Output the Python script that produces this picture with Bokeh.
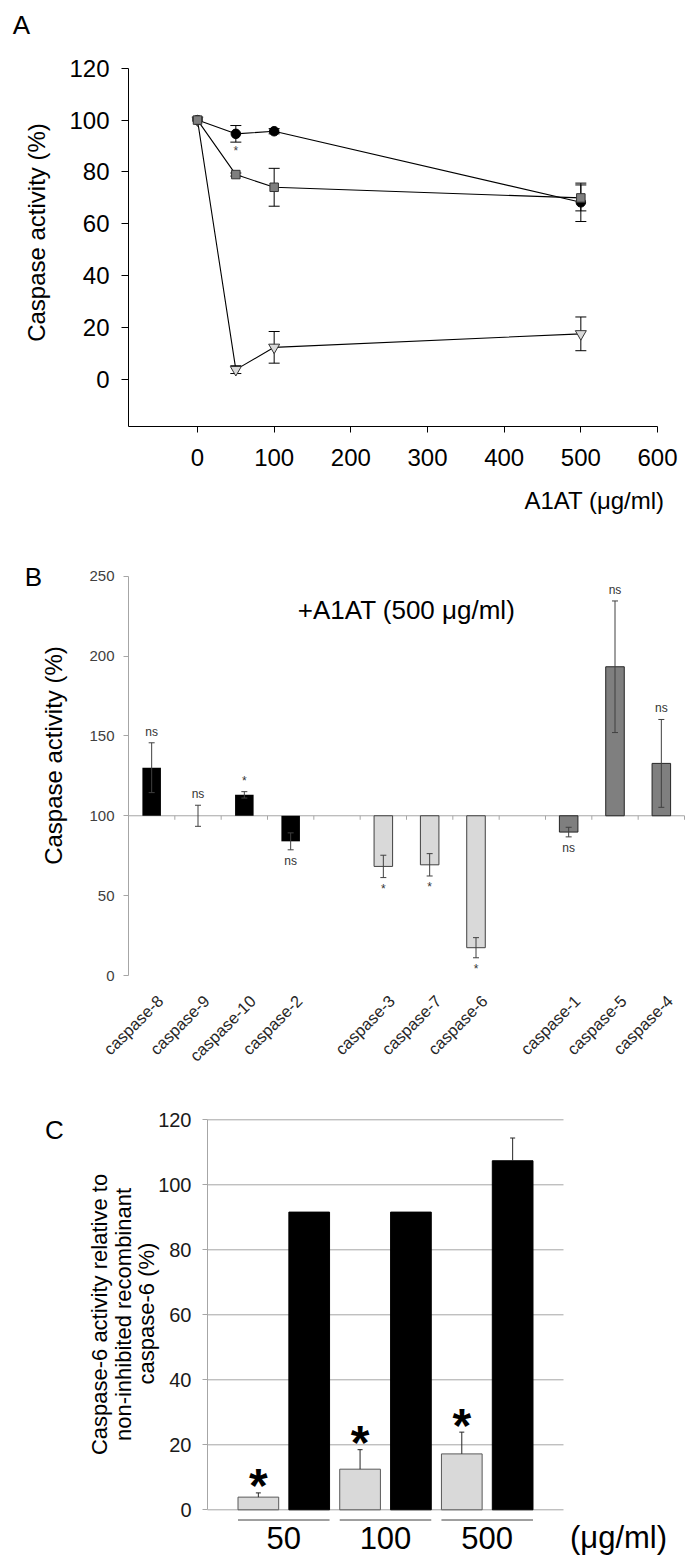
import math
from bokeh.plotting import figure
from bokeh.models import (ColumnDataSource, Whisker, TeeHead, Label, LabelSet,
                          FixedTicker)
from bokeh.layouts import column
from bokeh.embed import file_html
from bokeh.resources import INLINE
from bokeh.core.properties import value

FONT = "Liberation Sans"
PAGE_W = 692

# ---------------- data: panel A ----------------
a_dose = [0, 50, 100, 500]
a_circle = [100.0, 94.7, 95.7, 68.3]
a_circle_err = [0.0, 3.2, 1.0, 7.4]
a_square = [100.0, 79.0, 74.1, 70.0]
a_square_err = [0.0, 0.6, 7.3, 5.0]
a_triangle = [100.0, 3.8, 12.4, 17.6]
a_triangle_err = [0.0, 1.5, 6.1, 6.5]
a_x_ticks = [0, 100, 200, 300, 400, 500, 600]
a_y_ticks = [0, 20, 40, 60, 80, 100, 120]

# ---------------- data: panel B ----------------
b_categories = ["caspase-8", "caspase-9", "caspase-10", "caspase-2", "",
                "caspase-3", "caspase-7", "caspase-6", "",
                "caspase-1", "caspase-5", "caspase-4"]
b_values = [130.1, 100.0, 113.1, 84.0, None, 68.3, 69.3, 17.4, None, 89.8, 193.3, 132.8]
b_errors = [15.6, 6.6, 2.0, 5.3, None, 7.0, 7.0, 6.3, None, 3.0, 41.2, 27.5]
b_group = [0, 0, 0, 0, None, 1, 1, 1, None, 2, 2, 2]
b_sig = ["ns", "ns", "*", "ns", "", "*", "*", "*", "", "ns", "ns", "ns"]
b_y_ticks = [0, 50, 100, 150, 200, 250]
b_baseline = 100

# ---------------- data: panel C ----------------
c_doses = ["50", "100", "500"]
c_inhibited = [3.9, 12.5, 17.2]
c_inhibited_err = [1.3, 6.0, 6.7]
c_control = [91.6, 91.6, 107.4]
c_control_err = [0.0, 0.0, 7.0]
c_y_ticks = [0, 20, 40, 60, 80, 100, 120]

# ---------------- styles ----------------
B_FILL = ["#000000", "#d9d9d9", "#7f7f7f"]
B_LINE = ["#000000", "#404040", "#262626"]
B_LINE_ALPHA = [0.0, 1.0, 1.0]


class Geo:
    """Whole-canvas frame; the plot area (x_data, y_data) sits at the given page pixels."""
    def __init__(self, top, height, x_data, x_px, y_data, y_px):
        self.top, self.H = top, height
        self.x_data, self.y_data = x_data, y_data
        self.kx = (x_px[1] - x_px[0]) / (x_data[1] - x_data[0])
        self.ky = (y_px[0] - y_px[1]) / (y_data[1] - y_data[0])
        self.x_start = x_data[0] - x_px[0] / self.kx
        self.x_end = self.x_start + PAGE_W / self.kx
        self.y_end = y_data[1] + (y_px[1] - top) / self.ky
        self.y_start = self.y_end - height / self.ky

    def x(self, px):
        return self.x_start + px / self.kx

    def y(self, py):
        return self.y_end - (py - self.top) / self.ky


def make_fig(g):
    p = figure(width=PAGE_W, height=g.H, x_range=(g.x_start, g.x_end),
               y_range=(g.y_start, g.y_end), output_backend="svg",
               toolbar_location=None, min_border=0, min_border_left=0,
               min_border_right=0, min_border_top=0, min_border_bottom=0)
    p.frame_align = False
    p.title.visible = False
    p.outline_line_color = None
    p.background_fill_color = "white"
    p.border_fill_color = "white"
    p.xgrid.visible = False
    p.ygrid.visible = False
    p.xaxis.fixed_location = g.y_data[0]
    p.yaxis.fixed_location = g.x_data[0]
    p.xaxis.bounds = g.x_data
    p.yaxis.bounds = g.y_data
    for ax in (p.xaxis[0], p.yaxis[0]):
        ax.minor_tick_line_color = None
        ax.major_tick_in = 0
        ax.major_label_text_font = FONT
    return p


def label(p, x, y, text, size, color="#000000", angle=0.0, align="center",
          baseline="middle", style="normal"):
    p.add_layout(Label(x=x, y=y, text=text, text_font=FONT,
                       text_font_size=f"{size}px", text_color=color,
                       angle=angle, text_align=align, text_baseline=baseline,
                       text_font_style=style))


# =============== Panel A ===============
gA = Geo(top=0, height=530, x_data=(-90, 600), x_px=(128, 657),
         y_data=(-18, 120), y_px=(425.7, 67.7))
pA = make_fig(gA)
pA.xaxis.ticker = FixedTicker(ticks=a_x_ticks)
pA.yaxis.ticker = FixedTicker(ticks=a_y_ticks)
for ax in (pA.xaxis[0], pA.yaxis[0]):
    ax.axis_line_color = "#000000"
    ax.major_tick_line_color = "#000000"
    ax.major_label_text_font_size = "24px"
    ax.major_label_text_color = "#000000"
pA.xaxis.major_tick_out = 6
pA.xaxis.major_label_standoff = 17
pA.yaxis.major_tick_out = 7
pA.yaxis.major_label_standoff = 12

series = [
    (a_triangle, a_triangle_err, dict(marker="inverted_triangle", size=11,
                                      fill_color="#d9d9d9", line_color="#333333")),
    (a_circle, a_circle_err, dict(marker="circle", size=9.5,
                                  fill_color="#000000", line_color="#000000")),
    (a_square, a_square_err, dict(marker="square", size=8.5,
                                  fill_color="#7f7f7f", line_color="#333333")),
]
for ys, es, style in series:
    pA.line(a_dose, ys, line_color="#000000", line_width=1.1)
for ys, es, style in series:
    pts = [(x, y, e) for x, y, e in zip(a_dose, ys, es) if e > 0]
    src = ColumnDataSource(dict(x=[t[0] for t in pts],
                                lo=[t[1] - t[2] for t in pts],
                                hi=[t[1] + t[2] for t in pts]))
    pA.add_layout(Whisker(source=src, base="x", lower="lo", upper="hi",
                          line_color="#000000", line_width=1,
                          upper_head=TeeHead(size=11, line_color="#000000", line_width=1),
                          lower_head=TeeHead(size=11, line_color="#000000", line_width=1)))
for ys, es, style in series:
    pA.scatter(a_dose, ys, line_width=1, **style)

label(pA, a_dose[1], a_circle[1] - a_circle_err[1] - 2 / gA.ky, "*", 12,
      color="#444444", baseline="top")

label(pA, gA.x(21), gA.y(24), "A", 26)
label(pA, gA.x(36), gA.y(232), "Caspase activity (%)", 24, angle=math.pi / 2)
label(pA, gA.x(594), gA.y(500), "A1AT (\u03bcg/ml)", 24)

# =============== Panel B ===============
gB = Geo(top=530, height=545, x_data=(-0.5, len(b_categories) - 0.5), x_px=(128, 684),
         y_data=(0, 250), y_px=(975, 575.7))
pB = make_fig(gB)
pB.yaxis.ticker = FixedTicker(ticks=b_y_ticks)
pB.yaxis.axis_line_color = "#a6a6a6"
pB.yaxis.major_tick_line_color = "#a6a6a6"
pB.yaxis.major_tick_out = 5
pB.yaxis.major_label_standoff = 9
pB.yaxis.major_label_text_font_size = "15px"
pB.yaxis.major_label_text_color = "#404040"
pB.xaxis.visible = False

idx = [i for i, c in enumerate(b_categories) if c]
# rotated category labels, anchored (right, middle) just below the zero line
lab_dx = 8.5 / gB.kx
lab_y = gB.y(997.5)
src_cat = ColumnDataSource(dict(x=[i + lab_dx for i in idx], y=[lab_y] * len(idx),
                                t=[b_categories[i] for i in idx]))
pB.add_layout(LabelSet(source=src_cat, x="x", y="y", text="t", angle=math.pi / 4,
                       text_align="right", text_baseline="middle",
                       text_font=value(FONT), text_font_size="16.5px",
                       text_color="#262626"))

# baseline axis at 100 with category-boundary ticks
x_lo, x_hi = gB.x_data
pB.segment(x0=[x_lo], y0=[b_baseline], x1=[x_hi], y1=[b_baseline],
           line_color="#a6a6a6", line_width=1)
bounds = [i + 0.5 for i in range(len(b_categories))]
tick_len = 4 / gB.ky
pB.segment(x0=bounds, y0=[b_baseline] * len(bounds), x1=bounds,
           y1=[b_baseline - tick_len] * len(bounds), line_color="#a6a6a6", line_width=1)

srcB = ColumnDataSource(dict(
    x=idx,
    top=[b_values[i] for i in idx],
    fill=[B_FILL[b_group[i]] for i in idx],
    line=[B_LINE[b_group[i]] for i in idx],
    la=[B_LINE_ALPHA[b_group[i]] for i in idx],
    lo=[b_values[i] - b_errors[i] for i in idx],
    hi=[b_values[i] + b_errors[i] for i in idx],
))
pB.vbar(x="x", bottom=b_baseline, top="top", width=0.4, fill_color="fill",
        line_color="line", line_alpha="la", line_width=1, source=srcB)
pB.add_layout(Whisker(source=srcB, base="x", lower="lo", upper="hi",
                      line_color="#404040", line_width=1, level="overlay",
                      upper_head=TeeHead(size=6, line_color="#404040", line_width=1),
                      lower_head=TeeHead(size=6, line_color="#404040", line_width=1)))

gap = 4 / gB.ky
up = [i for i in idx if b_sig[i] and b_values[i] >= b_baseline]
dn = [i for i in idx if b_sig[i] and b_values[i] < b_baseline]
src_up = ColumnDataSource(dict(x=up, y=[b_values[i] + b_errors[i] + gap for i in up],
                               t=[b_sig[i] for i in up]))
src_dn = ColumnDataSource(dict(x=dn, y=[b_values[i] - b_errors[i] - gap for i in dn],
                               t=[b_sig[i] for i in dn]))
pB.add_layout(LabelSet(source=src_up, x="x", y="y", text="t", text_align="center",
                       text_baseline="bottom", text_font=value(FONT),
                       text_font_size="12px", text_color="#333333"))
pB.add_layout(LabelSet(source=src_dn, x="x", y="y", text="t", text_align="center",
                       text_baseline="top", text_font=value(FONT),
                       text_font_size="12px", text_color="#333333"))

label(pB, gB.x(33), gB.y(576), "B", 26)
label(pB, gB.x(53), gB.y(755), "Caspase activity (%)", 24, angle=math.pi / 2)
label(pB, gB.x(406), gB.y(609), "+A1AT (500 \u03bcg/ml)", 26)

# =============== Panel C ===============
gC = Geo(top=1075, height=489, x_data=(-1, 2 * len(c_doses)), x_px=(207, 563),
         y_data=(0, 120), y_px=(1509.3, 1119.3))
pC = make_fig(gC)
pC.yaxis.ticker = FixedTicker(ticks=c_y_ticks)
pC.yaxis.axis_line_color = "#a6a6a6"
pC.yaxis.major_tick_line_color = "#a6a6a6"
pC.yaxis.major_tick_out = 5
pC.yaxis.major_label_standoff = 11
pC.yaxis.major_label_text_font_size = "20px"
pC.yaxis.major_label_text_color = "#1a1a1a"
pC.xaxis.visible = False

cx_lo, cx_hi = gC.x_data
pC.segment(x0=[cx_lo] * len(c_y_ticks), y0=c_y_ticks, x1=[cx_hi] * len(c_y_ticks),
           y1=c_y_ticks, line_color="#a6a6a6", line_width=1)

grey_x = [2 * i for i in range(len(c_doses))]
black_x = [2 * i + 1 for i in range(len(c_doses))]
pC.vbar(x=grey_x, top=c_inhibited, bottom=0, width=0.8, fill_color="#d9d9d9",
        line_color="#595959", line_width=1)
pC.vbar(x=black_x, top=c_control, bottom=0, width=0.8, fill_color="#000000",
        line_color="#000000", line_width=1)

ex = grey_x + [x for x, e in zip(black_x, c_control_err) if e > 0]
elo = c_inhibited + [v for v, e in zip(c_control, c_control_err) if e > 0]
ehi = [v + e for v, e in zip(c_inhibited, c_inhibited_err)] + \
      [v + e for v, e in zip(c_control, c_control_err) if e > 0]
srcCe = ColumnDataSource(dict(x=ex, lo=elo, hi=ehi))
pC.add_layout(Whisker(source=srcCe, base="x", lower="lo", upper="hi",
                      line_color="#262626", line_width=1, level="overlay",
                      lower_head=None,
                      upper_head=TeeHead(size=5, line_color="#262626", line_width=1)))

STAR = 48
star_shift = (17 - 0.55 * STAR) / gC.ky
src_star = ColumnDataSource(dict(x=grey_x,
                                 y=[v + e + star_shift for v, e in zip(c_inhibited, c_inhibited_err)],
                                 t=["*"] * len(grey_x)))
pC.add_layout(LabelSet(source=src_star, x="x", y="y", text="t", text_align="center",
                       text_baseline="alphabetic", text_font=value(FONT),
                       text_font_size=f"{STAR}px", text_font_style="bold",
                       text_color="#000000"))

y_line = gC.y(1519.5)
pC.segment(x0=[x - 0.4 for x in grey_x], y0=[y_line] * len(grey_x),
           x1=[x + 0.4 for x in black_x], y1=[y_line] * len(grey_x),
           line_color="#404040", line_width=1)
src_dose = ColumnDataSource(dict(x=[(g + b) / 2 for g, b in zip(grey_x, black_x)],
                                 y=[gC.y(1537)] * len(c_doses), t=c_doses))
pC.add_layout(LabelSet(source=src_dose, x="x", y="y", text="t", text_align="center",
                       text_baseline="middle", text_font=value(FONT),
                       text_font_size="31px", text_color="#000000"))
label(pC, gC.x(618), gC.y(1537), "(\u03bcg/ml)", 31)

label(pC, gC.x(54), gC.y(1129), "C", 26)
label(pC, gC.x(99), gC.y(1314), "Caspase-6 activity relative to", 22, angle=math.pi / 2)
label(pC, gC.x(123), gC.y(1314), "non-inhibited recombinant", 22, angle=math.pi / 2)
label(pC, gC.x(146), gC.y(1310), "caspase-6  (%)", 22, angle=math.pi / 2)

layout = column(pA, pB, pC, spacing=0)
open("out.html", "w").write(file_html(layout, INLINE))
